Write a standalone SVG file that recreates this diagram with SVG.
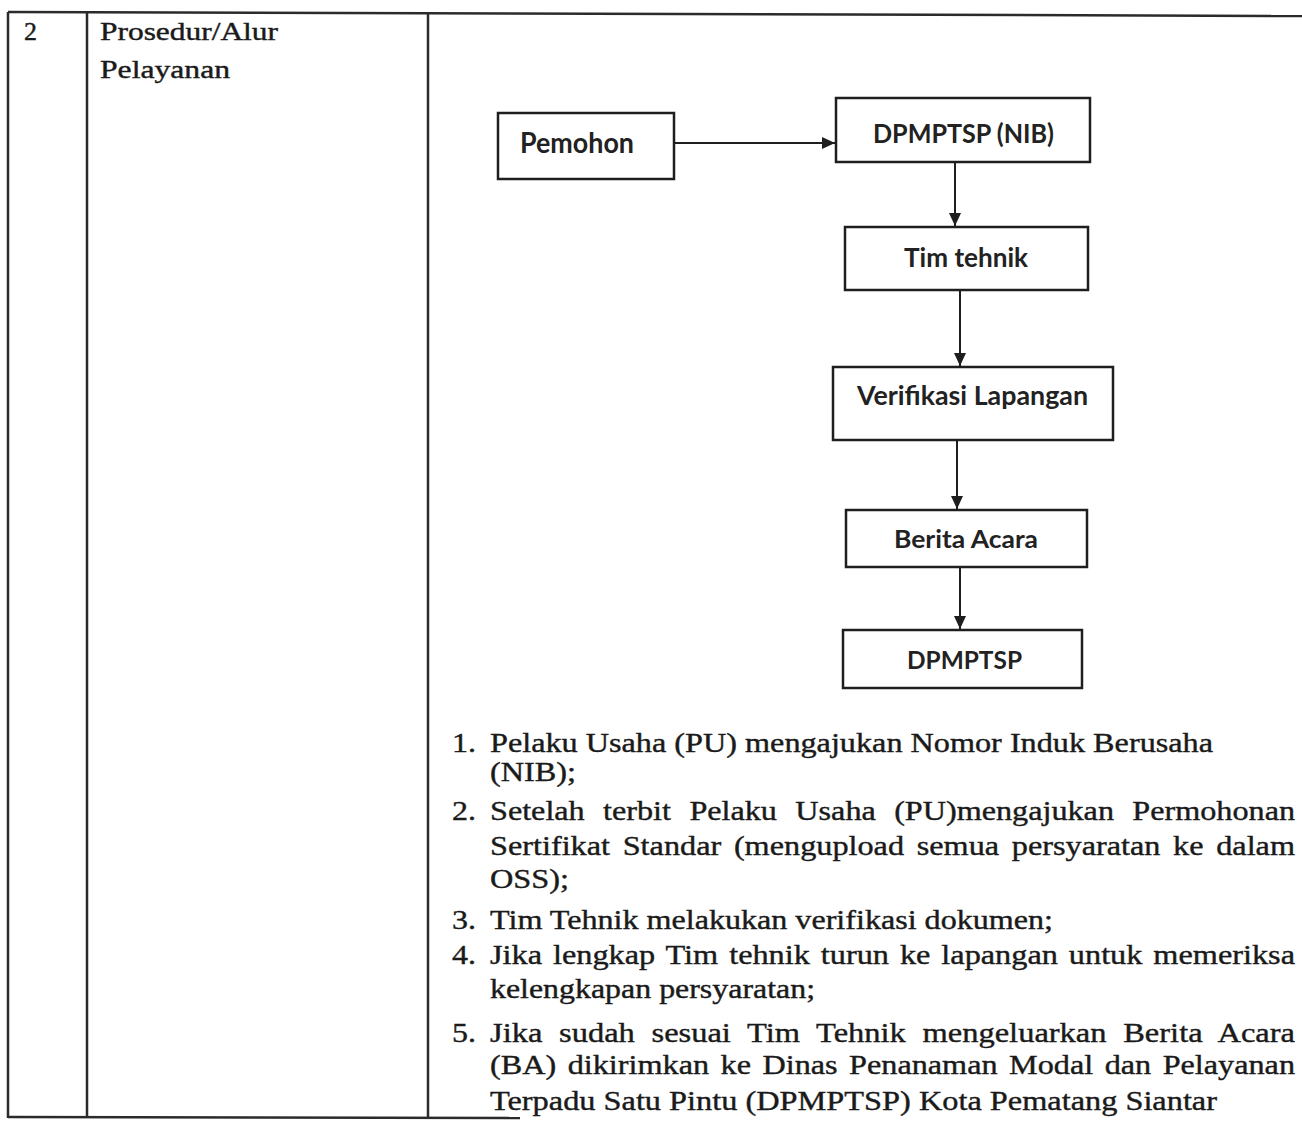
<svg xmlns="http://www.w3.org/2000/svg" width="1302" height="1122" viewBox="0 0 1302 1122">
  <style>
    .tbl { stroke: #2b2b2b; stroke-width: 2.5; fill: none; }
    .box { fill: #ffffff; stroke: #1e1e1e; stroke-width: 2.5; }
    .lbl { font-family: Lato, "Open Sans", "Liberation Sans", sans-serif; font-weight: 700; font-size: 26px; fill: #222222; }
    .conn { stroke: #1e1e1e; stroke-width: 2; fill: none; }
    .serif { font-family: "Liberation Serif", "Times New Roman", serif; fill: #1a1a1a; stroke: #1a1a1a; stroke-width: 0.4; }
    .hd { font-size: 25px; }
    .li { font-size: 28px; }
  </style>
  <defs>
    <marker id="arrow" markerUnits="userSpaceOnUse" markerWidth="14" markerHeight="12" refX="13" refY="6" orient="auto">
      <path d="M0,0 L13,6 L0,12 z" fill="#1e1e1e"/>
    </marker>
  </defs>
  <rect x="0" y="0" width="1302" height="1122" fill="#ffffff"/>

  <g id="table">
    <line class="tbl" x1="8" y1="12" x2="1302" y2="16"/>
    <line class="tbl" x1="8" y1="12" x2="8" y2="1118"/>
    <line class="tbl" x1="87" y1="12" x2="87" y2="1118"/>
    <line class="tbl" x1="428" y1="13" x2="428" y2="1118"/>
    <line class="tbl" x1="8" y1="1117" x2="520" y2="1118"/>
    <text class="serif hd" x="24" y="40" textLength="13" lengthAdjust="spacingAndGlyphs">2</text>
    <text class="serif hd" x="100" y="40" textLength="178" lengthAdjust="spacingAndGlyphs">Prosedur/Alur</text>
    <text class="serif hd" x="100" y="78" textLength="130" lengthAdjust="spacingAndGlyphs">Pelayanan</text>
  </g>

  <g id="connectors">
    <line class="conn" x1="674" y1="143" x2="835" y2="143" marker-end="url(#arrow)"/>
    <line class="conn" x1="955" y1="162" x2="955" y2="226" marker-end="url(#arrow)"/>
    <line class="conn" x1="960" y1="290" x2="960" y2="366" marker-end="url(#arrow)"/>
    <line class="conn" x1="957" y1="440" x2="957" y2="509" marker-end="url(#arrow)"/>
    <line class="conn" x1="960" y1="567" x2="960" y2="629" marker-end="url(#arrow)"/>
  </g>

  <g id="node-pemohon">
    <rect class="box" x="498" y="113" width="176" height="66"/>
    <text class="lbl" x="520" y="153" textLength="114" lengthAdjust="spacingAndGlyphs" style="font-size:28px">Pemohon</text>
  </g>
  <g id="node-dpmptsp-nib">
    <rect class="box" x="836" y="98" width="254" height="64"/>
    <text class="lbl" x="873" y="143" textLength="181" lengthAdjust="spacingAndGlyphs" style="font-size:27px">DPMPTSP (NIB)</text>
  </g>
  <g id="node-tim-tehnik">
    <rect class="box" x="845" y="227" width="243" height="63"/>
    <text class="lbl" x="904" y="267" textLength="124" lengthAdjust="spacingAndGlyphs" style="font-size:27px">Tim tehnik</text>
  </g>
  <g id="node-verifikasi">
    <rect class="box" x="833" y="367" width="280" height="73"/>
    <text class="lbl" x="857" y="405" textLength="231" lengthAdjust="spacingAndGlyphs">Verifikasi Lapangan</text>
  </g>
  <g id="node-berita-acara">
    <rect class="box" x="846" y="510" width="241" height="57"/>
    <text class="lbl" x="894" y="548" textLength="144" lengthAdjust="spacingAndGlyphs" style="font-size:24px">Berita Acara</text>
  </g>
  <g id="node-dpmptsp">
    <rect class="box" x="843" y="630" width="239" height="58"/>
    <text class="lbl" x="907" y="669" textLength="115" lengthAdjust="spacingAndGlyphs" style="font-size:24px">DPMPTSP</text>
  </g>

  <g id="steps" class="serif li">
    <text x="452" y="752" textLength="24" lengthAdjust="spacingAndGlyphs">1.</text>
    <text x="490" y="752" textLength="723" lengthAdjust="spacingAndGlyphs">Pelaku Usaha (PU) mengajukan Nomor Induk Berusaha</text>
    <text x="490" y="781" textLength="86" lengthAdjust="spacingAndGlyphs">(NIB);</text>
    <text x="452" y="820" textLength="24" lengthAdjust="spacingAndGlyphs">2.</text>
    <text x="490" y="820" textLength="805" lengthAdjust="spacingAndGlyphs" word-spacing="9">Setelah terbit Pelaku Usaha (PU)mengajukan Permohonan</text>
    <text x="490" y="855" textLength="805" lengthAdjust="spacingAndGlyphs" word-spacing="4">Sertifikat Standar (mengupload semua persyaratan ke dalam</text>
    <text x="490" y="888" textLength="79" lengthAdjust="spacingAndGlyphs">OSS);</text>
    <text x="452" y="929" textLength="24" lengthAdjust="spacingAndGlyphs">3.</text>
    <text x="490" y="929" textLength="563" lengthAdjust="spacingAndGlyphs">Tim Tehnik melakukan verifikasi dokumen;</text>
    <text x="452" y="964" textLength="24" lengthAdjust="spacingAndGlyphs">4.</text>
    <text x="490" y="964" textLength="805" lengthAdjust="spacingAndGlyphs" word-spacing="2.5">Jika lengkap Tim tehnik turun ke lapangan untuk memeriksa</text>
    <text x="490" y="998" textLength="325" lengthAdjust="spacingAndGlyphs">kelengkapan persyaratan;</text>
    <text x="452" y="1042" textLength="24" lengthAdjust="spacingAndGlyphs">5.</text>
    <text x="490" y="1042" textLength="805" lengthAdjust="spacingAndGlyphs" word-spacing="7.4">Jika sudah sesuai Tim Tehnik mengeluarkan Berita Acara</text>
    <text x="490" y="1074" textLength="805" lengthAdjust="spacingAndGlyphs" word-spacing="3">(BA) dikirimkan ke Dinas Penanaman Modal dan Pelayanan</text>
    <text x="490" y="1110" textLength="727" lengthAdjust="spacingAndGlyphs">Terpadu Satu Pintu (DPMPTSP) Kota Pematang Siantar</text>
  </g>
</svg>
